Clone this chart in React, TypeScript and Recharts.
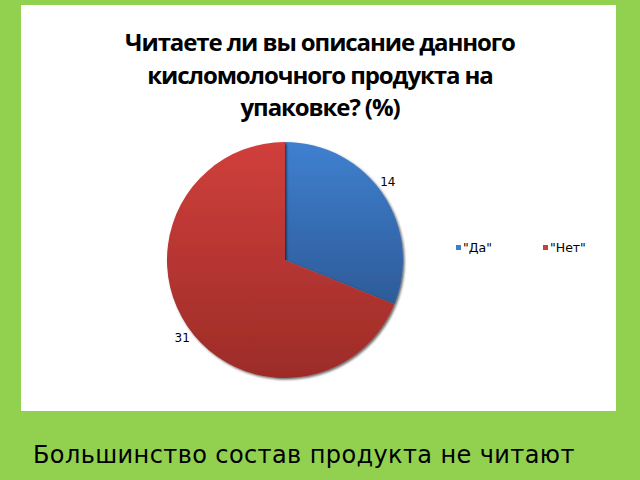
import React from 'react';
import { PieChart, Pie, Cell, Legend } from 'recharts';

const categories = ['"Да"', '"Нет"'];
const values = [14, 31];
const titleLines = ['Читаете ли вы описание данного', 'кисломолочного продукта на', 'упаковке? (%)'];
const footer = 'Большинство состав продукта не читают';

const gradIds = ['gradBlue', 'gradRed'];
const swatches = ['#3f7ecb', '#c9403b'];

const data = categories.map((name, i) => ({ name, value: values[i] }));

const RAD = Math.PI / 180;

// the original pie is slightly taller than wide, so labels sit a bit further out vertically
const renderLabel = ({ cx, cy, midAngle, outerRadius, value }: any) => {
  const r = outerRadius + 6;
  const x = cx + r * Math.cos(-midAngle * RAD);
  const y = cy + r * 1.12 * Math.sin(-midAngle * RAD);
  return (
    <text x={x} y={y} textAnchor="middle" dominantBaseline="central" fontSize={12} fill="#000" fontFamily="DejaVu Sans">
      {value}
    </text>
  );
};

const LegendContent = () => (
  <div style={{ position: 'relative', height: 16, fontFamily: 'DejaVu Sans', fontSize: 12.5 }}>
    {categories.map((c, i) => (
      <div key={c} style={{ position: 'absolute', left: i * 87, top: 0, display: 'flex', alignItems: 'center' }}>
        <span style={{ width: 5, height: 5, background: swatches[i], display: 'inline-block', marginRight: 2 }} />
        <span>{c}</span>
      </div>
    ))}
  </div>
);

export default function App() {
  return (
    <div style={{ position: 'absolute', left: 0, top: 0, width: 640, height: 480, background: '#92d050', overflow: 'hidden' }}>
      <div style={{ position: 'absolute', left: 21, top: 5, width: 595, height: 406, background: '#fff' }} />
      <div style={{ position: 'absolute', left: 0, top: 0 }}>
        <PieChart width={640} height={480} margin={{ top: 0, right: 0, bottom: 0, left: 0 }}>
          <defs>
            <linearGradient id="gradBlue" x1="0" y1="0" x2="0" y2="1">
              <stop offset="0%" stopColor="#3f80d0" />
              <stop offset="100%" stopColor="#2d5b98" />
            </linearGradient>
            <linearGradient id="gradRed" x1="0" y1="0" x2="0" y2="1">
              <stop offset="0%" stopColor="#d03f3b" />
              <stop offset="100%" stopColor="#9c2c28" />
            </linearGradient>
            <filter id="shadow" x="-10%" y="-10%" width="120%" height="120%">
              <feDropShadow dx="1.5" dy="1.5" stdDeviation="1" floodColor="#000" floodOpacity="0.6" />
            </filter>
          </defs>
          <Pie
            data={data}
            dataKey="value"
            nameKey="name"
            cx={285}
            cy={260}
            outerRadius={118}
            startAngle={90}
            endAngle={-270}
            stroke="none"
            label={renderLabel}
            labelLine={false}
            isAnimationActive={false}
            style={{ filter: 'url(#shadow)' }}
          >
            {data.map((d, i) => (
              <Cell key={d.name} fill={`url(#${gradIds[i]})`} />
            ))}
          </Pie>
          <Legend content={<LegendContent />} wrapperStyle={{ position: 'absolute', left: 456, top: 240, width: 160 }} />
        </PieChart>
      </div>
      <div style={{ position: 'absolute', left: 0, top: 26, width: 640, textAlign: 'center', fontFamily: 'Open Sans', fontWeight: 700, fontSize: 24, lineHeight: '32.5px', letterSpacing: -1.1, color: '#000' }}>
        {titleLines.map((l) => (
          <div key={l}>{l}</div>
        ))}
      </div>
      <div style={{ position: 'absolute', left: 33, top: 441, fontFamily: 'DejaVu Sans', fontSize: 24, letterSpacing: 0.4, color: '#000', whiteSpace: 'nowrap' }}>
        {footer}
      </div>
    </div>
  );
}
